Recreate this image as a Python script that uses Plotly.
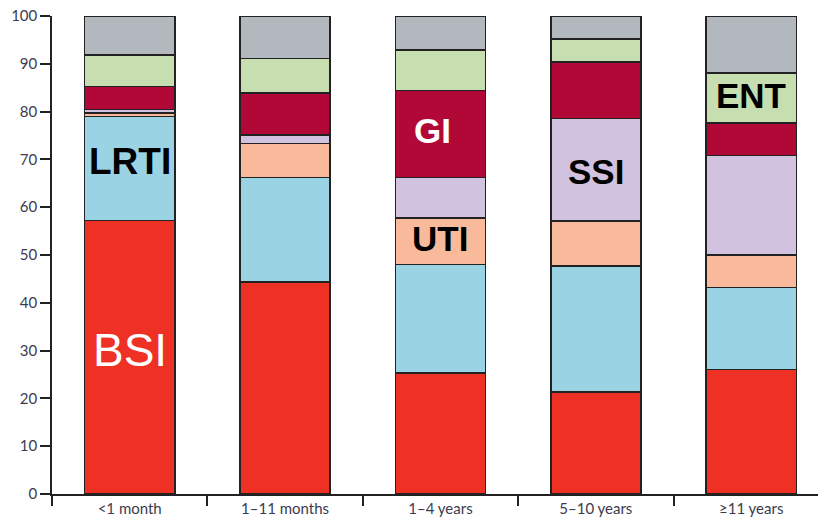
import plotly.graph_objects as go

# Age groups on the x axis
age_groups = ["<1 month", "1–11 months", "1–4 years", "5–10 years", "≥11 years"]

# Share of infections (%) by site, stacked bottom to top
bsi = [57.2, 44.4, 25.3, 21.3, 26.0]
lrti = [21.8, 21.8, 22.7, 26.4, 17.2]
uti = [0.7, 7.1, 9.7, 9.4, 6.8]
ssi = [0.7, 1.8, 8.5, 21.5, 20.8]
gi = [4.9, 8.8, 18.2, 11.8, 6.8]
ent = [6.5, 7.2, 8.5, 4.8, 10.5]
other = [8.2, 8.9, 7.1, 4.8, 11.9]

y_ticks = [0, 10, 20, 30, 40, 50, 60, 70, 80, 90, 100]

series = [
    ("BSI", bsi, "#EE3124"),
    ("LRTI", lrti, "#99D3E4"),
    ("UTI", uti, "#F9B99B"),
    ("SSI", ssi, "#D1C2DF"),
    ("GI", gi, "#B20838"),
    ("ENT", ent, "#C6DEB0"),
    ("Other", other, "#B2B8BE"),
]

fig = go.Figure()
for name, vals, color in series:
    fig.add_trace(go.Bar(
        x=age_groups, y=vals, name=name,
        marker=dict(color=color, line=dict(color="#222222", width=1.5)),
        width=0.58,
    ))

# Segment labels inside selected bars: (text, bar index, y position, colour, size, bold, x shift)
labels = [
    ("BSI", 0, 30.2, "white", 46, False, 0),
    ("LRTI", 0, 69.5, "black", 37, True, 0),
    ("UTI", 2, 53.5, "black", 35, True, 0),
    ("GI", 2, 76.0, "white", 35, True, -8),
    ("SSI", 3, 67.4, "black", 35, True, 0),
    ("ENT", 4, 83.3, "black", 35, True, 0),
]
for text, bar_i, ypos, color, size, bold, dx in labels:
    fig.add_annotation(
        x=age_groups[bar_i], y=ypos, xref="x", yref="y",
        text=f"<b>{text}</b>" if bold else text,
        showarrow=False, xshift=dx,
        font=dict(family="Liberation Sans, Arial", size=size, color=color),
    )

fig.update_layout(
    barmode="stack",
    width=818, height=522,
    margin=dict(l=52, r=0, t=16, b=28),
    paper_bgcolor="white", plot_bgcolor="white",
    showlegend=False,
)
fig.update_xaxes(
    range=[-0.5, 4.43],
    showline=True, linecolor="#222222", linewidth=1.5,
    ticks="outside", tickson="boundaries", ticklen=10, tickwidth=1.5, tickcolor="#222222",
    tickfont=dict(family="Lato", size=15, color="#3b3b4f"),
    showgrid=False, zeroline=False,
)
fig.update_yaxes(
    range=[0, 100],
    tickvals=y_ticks,
    showline=True, linecolor="#222222", linewidth=1.5,
    ticks="outside", ticklen=10, tickwidth=1.5, tickcolor="#222222",
    tickfont=dict(family="Lato", size=15, color="#3b3b4f"),
    showgrid=False, zeroline=False,
)

fig.write_html("out.html")
